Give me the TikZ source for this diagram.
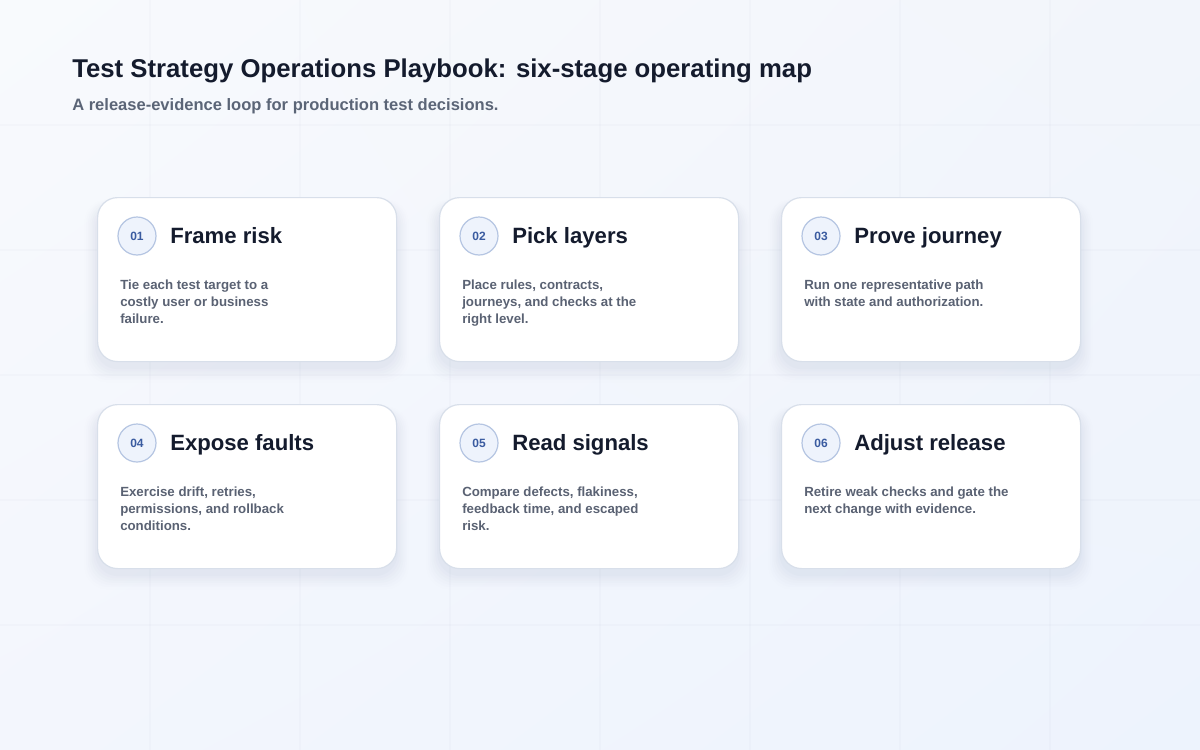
\documentclass[tikz,border=0pt]{standalone}
\usepackage{fontspec}
\setmainfont{Liberation Sans}
\usetikzlibrary{positioning,shadings}
\definecolor{bgul}{HTML}{F8FAFD}
\definecolor{bgur}{HTML}{F2F5FB}
\definecolor{bgll}{HTML}{F3F6FD}
\definecolor{bglr}{HTML}{EDF3FD}
\definecolor{gridc}{HTML}{8C9AB8}
\definecolor{titlec}{HTML}{141B2D}
\definecolor{subc}{HTML}{5B6577}
\definecolor{cardborder}{HTML}{D8DFEA}
\definecolor{circfill}{HTML}{EEF3FC}
\definecolor{circborder}{HTML}{B5C5E2}
\definecolor{numc}{HTML}{3A5BA0}
\definecolor{bodyc}{HTML}{5A6273}
\definecolor{shadowc}{HTML}{8A96B8}
\tikzset{
  x=0.75pt, y=-0.75pt,
  card/.style={draw=cardborder, line width=0.9pt, fill=white, rounded corners=15pt, minimum width=224.25pt, minimum height=123pt, inner sep=0pt},
  numcirc/.style={circle, draw=circborder, line width=0.9pt, fill=circfill, minimum size=28.5pt, inner sep=0pt, text=numc, font=\bfseries\fontsize{9}{10}\selectfont},
  cardtitle/.style={anchor=base west, inner sep=0pt, text=titlec, font=\bfseries\fontsize{16.6}{19}\selectfont},
  cardbody/.style={anchor=north west, inner sep=0pt, text=bodyc, align=left, font=\bfseries\fontsize{9.95}{12.75}\selectfont},
  gridline/.style={draw=gridc, draw opacity=0.035, line width=0.8pt},
}
\newcommand{\stagecard}[6]{%
  % #1 name, #2 x left, #3 y top, #4 number, #5 title, #6 body
  \foreach \k/\op in {1/0.03,2/0.026,3/0.022,4/0.018,5/0.014,6/0.01,7/0.007}{
    \fill[shadowc, opacity=\op, rounded corners=17pt] (#2-\k*1.8, #3+8-\k*0.8) rectangle (#2+299+\k*1.8, #3+164+6+\k*2.2);
  }
  \node[card, anchor=north west] (#1) at (#2,#3) {};
  \node[numcirc] (#1n) at (#2+40,#3+39) {#4};
  \node[cardtitle] (#1t) at (#2+73,#3+46) {#5};
  \node[cardbody] (#1b) at (#2+23,#3+83) {#6};
}
\begin{document}
\begin{tikzpicture}
\shade[upper left=bgul, upper right=bgur, lower left=bgll, lower right=bglr] (0,0) rectangle (1200,750);
\useasboundingbox (0,0) rectangle (1200,750);
\foreach \gx in {150,300,...,1050} \draw[gridline] (\gx,0) -- (\gx,750);
\foreach \gy in {125,250,...,625} \draw[gridline] (0,\gy) -- (1200,\gy);
\node[anchor=base west, inner sep=0pt, text=titlec, font=\bfseries\fontsize{19.3}{22}\selectfont] (title) at (72,77) {Test Strategy Operations Playbook: six-stage operating map};
\node[anchor=base west, inner sep=0pt, text=subc, font=\bfseries\fontsize{12.4}{14}\selectfont] (subtitle) at (72,110) {A release-evidence loop for production test decisions.};
\stagecard{c1}{97}{197}{01}{Frame risk}{Tie each test target to a\\costly user or business\\failure.}
\stagecard{c2}{439}{197}{02}{Pick layers}{Place rules, contracts,\\journeys, and checks at the\\right level.}
\stagecard{c3}{781}{197}{03}{Prove journey}{Run one representative path\\with state and authorization.}
\stagecard{c4}{97}{404}{04}{Expose faults}{Exercise drift, retries,\\permissions, and rollback\\conditions.}
\stagecard{c5}{439}{404}{05}{Read signals}{Compare defects, flakiness,\\feedback time, and escaped\\risk.}
\stagecard{c6}{781}{404}{06}{Adjust release}{Retire weak checks and gate the\\next change with evidence.}
\end{tikzpicture}
\end{document}
